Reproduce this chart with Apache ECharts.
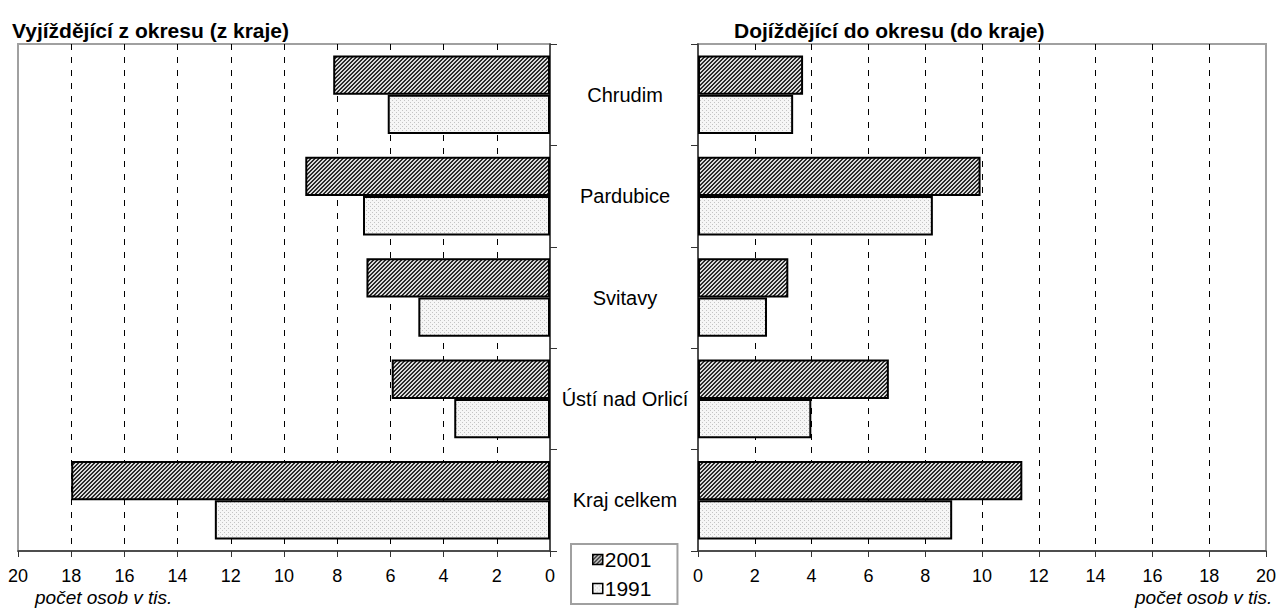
<!DOCTYPE html>
<html>
<head>
<meta charset="utf-8">
<script src="https://cdn.jsdelivr.net/npm/echarts@6/dist/echarts.min.js"></script>
<style>
html,body{margin:0;padding:0;background:#fff;}
#chart{width:1279px;height:608px;}
</style>
</head>
<body>
<div id="chart"></div>
<script>
// ---- data ----
const categories = ['Chrudim', 'Pardubice', 'Svitavy', 'Ústí nad Orlicí', 'Kraj celkem'];
const seriesNames = ['2001', '1991'];
const outgoing2001 = [8.15, 9.2, 6.9, 5.95, 18.0];
const outgoing1991 = [6.1, 7.03, 4.95, 3.6, 12.6];
const incoming2001 = [3.7, 9.95, 3.18, 6.72, 11.42];
const incoming1991 = [3.35, 8.27, 2.43, 3.99, 8.95];
const titles = ['Vyjíždějící z okresu (z kraje)', 'Dojíždějící do okresu (do kraje)'];
const unitLabel = 'počet osob v tis.';

// ---- patterns ----
function hatchCanvas() {
  const c = document.createElement('canvas');
  c.width = 4; c.height = 4;
  const ctx = c.getContext('2d');
  for (let x = 0; x < 4; x++) {
    for (let y = 0; y < 4; y++) {
      ctx.fillStyle = ((x + y) % 4 < 2) ? '#2a2a2a' : '#dadada';
      ctx.fillRect(x, y, 1, 1);
    }
  }
  return c;
}
function dotCanvas() {
  const c = document.createElement('canvas');
  c.width = 4; c.height = 4;
  const ctx = c.getContext('2d');
  ctx.fillStyle = '#f6f6f6';
  ctx.fillRect(0, 0, 4, 4);
  ctx.fillStyle = '#c4c4c4';
  ctx.fillRect(0, 0, 1, 1);
  ctx.fillRect(2, 2, 1, 1);
  return c;
}
const hatch = { image: hatchCanvas(), repeat: 'repeat' };
const dots = { image: dotCanvas(), repeat: 'repeat' };

const FONT = 'Arial, "Liberation Sans", sans-serif';
const axisLineStyle = { color: '#333', width: 1.5 };
const gridLine = { show: true, showMinLine: false, showMaxLine: false, lineStyle: { color: '#000', width: 1, type: [6, 7] } };

function valueAxis(gridIndex, inverse) {
  return {
    type: 'value', gridIndex: gridIndex, min: 0, max: 20, interval: 2, inverse: inverse,
    position: 'bottom',
    axisLine: { show: true, lineStyle: axisLineStyle },
    axisTick: { show: true, length: 6, lineStyle: { color: '#333', width: 1 } },
    axisLabel: { color: '#000', fontSize: 18, fontFamily: FONT, margin: 16 },
    splitLine: gridLine
  };
}
function catAxis(gridIndex, position, showLabels) {
  return {
    type: 'category', gridIndex: gridIndex, data: categories, inverse: true, position: position,
    axisLine: { show: true, lineStyle: axisLineStyle },
    axisTick: { show: true, length: 7, lineStyle: { color: '#333', width: 1 } },
    axisLabel: showLabels ? { show: true, color: '#000', fontSize: 20, fontFamily: FONT, align: 'center', margin: 75 } : { show: false },
    splitLine: { show: false }
  };
}
function barSeries(name, xi, data, pattern) {
  return {
    name: name, type: 'bar', xAxisIndex: xi, yAxisIndex: xi, data: data,
    barGap: '0%', barCategoryGap: '22.5%',
    itemStyle: { color: pattern, borderColor: '#000', borderWidth: 2 },
    emphasis: { disabled: true },
    animation: false
  };
}

const chart = echarts.init(document.getElementById('chart'), null, { renderer: 'svg' });
chart.setOption({
  animation: false,
  backgroundColor: '#fff',
  title: [
    { text: titles[0], left: 7, top: 15, textStyle: { fontSize: 21, fontWeight: 'bold', color: '#000', fontFamily: FONT } },
    { text: titles[1], left: 729, top: 15, textStyle: { fontSize: 21, fontWeight: 'bold', color: '#000', fontFamily: FONT } }
  ],
  grid: [
    { left: 18, right: 729, top: 44, bottom: 57, show: true, borderColor: '#a0a0a0', borderWidth: 2 },
    { left: 698, right: 9, top: 44, bottom: 57, show: true, borderColor: '#a0a0a0', borderWidth: 2 }
  ],
  xAxis: [valueAxis(0, true), valueAxis(1, false)],
  yAxis: [catAxis(0, 'right', true), catAxis(1, 'left', false)],
  legend: {
    data: [
      { name: seriesNames[0], itemStyle: { color: hatch, borderColor: '#000', borderWidth: 1.5 } },
      { name: seriesNames[1], itemStyle: { color: dots, borderColor: '#000', borderWidth: 1.5 } }
    ],
    orient: 'vertical', left: 571, top: 544,
    icon: 'rect', itemWidth: 10, itemHeight: 10, itemGap: 8,
    padding: [5, 26, 5, 21],
    borderColor: '#a0a0a0', borderWidth: 2,
    textStyle: { fontSize: 21, color: '#000', fontFamily: FONT, padding: [0, 0, 0, -3] },
    selectedMode: false
  },
  graphic: [
    { type: 'text', left: 35, top: 588, style: { text: unitLabel, fill: '#000', font: 'italic 19px Arial, "Liberation Sans", sans-serif' } },
    { type: 'text', left: 1135, top: 588, style: { text: unitLabel, fill: '#000', font: 'italic 19px Arial, "Liberation Sans", sans-serif' } }
  ],
  series: [
    barSeries(seriesNames[0], 0, outgoing2001, hatch),
    barSeries(seriesNames[1], 0, outgoing1991, dots),
    barSeries(seriesNames[0], 1, incoming2001, hatch),
    barSeries(seriesNames[1], 1, incoming1991, dots)
  ]
});
</script>
</body>
</html>
